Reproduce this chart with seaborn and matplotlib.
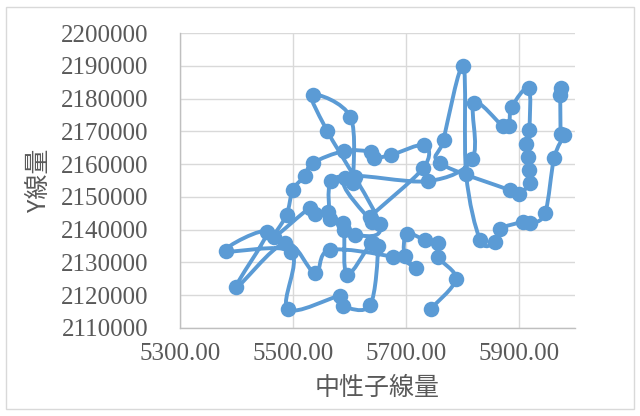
import numpy as np
import pandas as pd
import seaborn as sns
import matplotlib
matplotlib.use("Agg")
import matplotlib.pyplot as plt
from matplotlib.path import Path
from matplotlib.patches import PathPatch, FancyBboxPatch

# Measurement series, in recording order
neutron_dose = [
    5744, 5789, 5757, 5758, 5735, 5702, 5698, 5718, 5677, 5565,
    5539, 5486, 5400, 5454, 5381, 5497, 5491, 5584, 5589, 5637,
    5651, 5639, 5596, 5591, 5589, 5611, 5654, 5561, 5535, 5602,
    5607, 5610, 5567, 5565, 5563, 5540, 5530, 5467, 5489, 5500,
    5521, 5535, 5591, 5639, 5644, 5674, 5733, 5731, 5637, 5640,
    5592, 5740, 5818, 5821, 5872, 5883, 5888, 5918, 5919, 5914,
    5917, 5918, 5920, 5900, 5884, 5761, 5767, 5802, 5807, 5832,
    5858, 5867, 5907, 5921, 5947, 5963, 5981, 5975, 5974, 5976,
]
y_dose = [
    2115800, 2124900, 2131700, 2135900, 2136800, 2138700, 2132000, 2128300, 2131700, 2133800,
    2126800, 2135900, 2122500, 2139300, 2133500, 2133200, 2115800, 2119800, 2116700, 2117000,
    2135000, 2135900, 2126200, 2139900, 2142000, 2138400, 2141700, 2170100, 2181100, 2174400,
    2154200, 2156100, 2154800, 2143300, 2145400, 2144800, 2146600, 2137800, 2144500, 2152100,
    2156400, 2160300, 2164000, 2163700, 2161900, 2162800, 2165800, 2158800, 2143900, 2142300,
    2155800, 2154800, 2161600, 2178600, 2171600, 2171600, 2177400, 2183200, 2170400, 2166100,
    2162200, 2158200, 2154200, 2150900, 2152100, 2160300, 2167400, 2189900, 2157000, 2136800,
    2136200, 2140200, 2142300, 2142000, 2145100, 2161900, 2168900, 2169200, 2181100, 2183200,
]
x_ticks = [5300, 5500, 5700, 5900]
x_tick_labels = ["5300.00", "5500.00", "5700.00", "5900.00"]
y_ticks = list(range(2110000, 2200001, 10000))

df = pd.DataFrame({"x": neutron_dose, "y": y_dose})

BLUE = "#5B9BD5"
GRAY_TXT = "#595959"

sns.set_theme(style="white")
plt.rcParams["font.family"] = ["Liberation Serif", "Noto Sans CJK JP", "DejaVu Sans"]

fig = plt.figure(figsize=(6.4, 4.16), dpi=100)
ax = fig.add_axes([180 / 640, 1 - 328 / 416, 395 / 640, 295 / 416])

# Smoothed connecting line (cubic Bezier through consecutive points)
pts = df[["x", "y"]].to_numpy(dtype=float)
n = len(pts)
verts = [tuple(pts[0])]
codes = [Path.MOVETO]
for i in range(n - 1):
    p0 = pts[i - 1] if i > 0 else pts[i]
    p1 = pts[i]
    p2 = pts[i + 1]
    p3 = pts[i + 2] if i + 2 < n else pts[i + 1]
    c1 = p1 + (p2 - p0) / 6.0
    c2 = p2 - (p3 - p1) / 6.0
    verts += [tuple(c1), tuple(c2), tuple(p2)]
    codes += [Path.CURVE4, Path.CURVE4, Path.CURVE4]
ax.add_patch(PathPatch(Path(verts, codes), facecolor="none", edgecolor=BLUE,
                       linewidth=2.8, capstyle="round", joinstyle="round", zorder=3))

sns.scatterplot(data=df, x="x", y="y", ax=ax, color=BLUE, s=125,
                edgecolor=BLUE, linewidth=0, zorder=4, legend=False)

ax.set_xlim(5300, 6000)
ax.set_ylim(2110000, 2200000)
ax.set_xticks(x_ticks)
ax.set_xticklabels(x_tick_labels)
ax.set_yticks(y_ticks)
ax.set_yticklabels([str(v) for v in y_ticks])
ax.grid(True, color="#D9D9D9", linewidth=1.0)
ax.set_axisbelow(True)
for side in ["top", "right"]:
    ax.spines[side].set_visible(False)
for side in ["left", "bottom"]:
    ax.spines[side].set_color("#BFBFBF")
    ax.spines[side].set_linewidth(1.0)
ax.tick_params(axis="both", length=0, labelsize=18, labelcolor=GRAY_TXT)
ax.tick_params(axis="y", pad=23)
ax.tick_params(axis="x", pad=11)

ax.set_xlabel("中性子線量", fontsize=18, color=GRAY_TXT,
              family=["Noto Sans CJK JP", "DejaVu Sans"], labelpad=7)
ax.set_ylabel("Y線量", fontsize=18, color=GRAY_TXT,
              family=["Noto Sans CJK JP", "DejaVu Sans"], labelpad=6)

# Chart frame
fig.patches.append(FancyBboxPatch((6 / 640, 7 / 416), 628 / 640, 402 / 416,
                                  boxstyle="square,pad=0", transform=fig.transFigure,
                                  facecolor="none", edgecolor="#D9D9D9", linewidth=1.0))

fig.savefig("out.png", dpi=100)
